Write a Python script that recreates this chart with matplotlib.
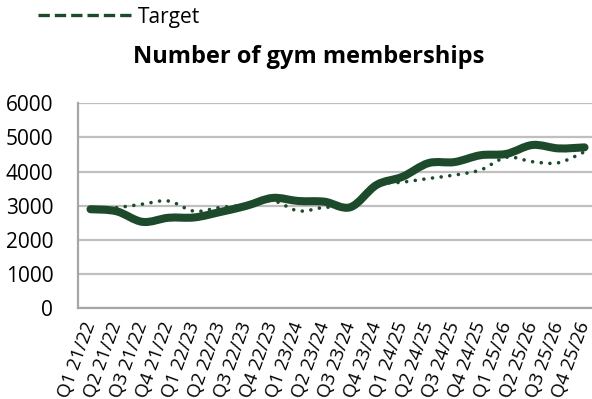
import matplotlib
matplotlib.use("Agg")
import matplotlib.pyplot as plt
import numpy as np
from matplotlib.path import Path
from matplotlib.patches import PathPatch
from matplotlib.lines import Line2D

plt.rcParams["font.family"] = ["Open Sans", "DejaVu Sans"]

trimestres = [
    "Q1 21/22", "Q2 21/22", "Q3 21/22", "Q4 21/22",
    "Q1 22/23", "Q2 22/23", "Q3 22/23", "Q4 22/23",
    "Q1 23/24", "Q2 23/24", "Q3 23/24", "Q4 23/24",
    "Q1 24/25", "Q2 24/25", "Q3 24/25", "Q4 24/25",
    "Q1 25/26", "Q2 25/26", "Q3 25/26", "Q4 25/26",
]
socios = [2900, 2840, 2530, 2650, 2660, 2820, 3000, 3230, 3140, 3120,
          2960, 3610, 3850, 4250, 4280, 4480, 4520, 4780, 4680, 4710]
objetivo = [2900, 2945, 3050, 3140, 2840, 2955, 3020, 3150, 2850, 2955,
            2980, 3600, 3690, 3800, 3900, 4050, 4420, 4290, 4260, 4580]

VERDE = "#1d4a2b"
GRIS = "#bfbfbf"


def _curva_suave(xs, ys):
    # Catmull-Rom pasado a Bezier cubico, como las lineas suavizadas de Excel
    pts = np.column_stack([xs, ys]).astype(float)
    n = len(pts)
    verts = [pts[0]]
    codes = [Path.MOVETO]
    for i in range(n - 1):
        p0 = pts[max(i - 1, 0)]
        p1 = pts[i]
        p2 = pts[i + 1]
        p3 = pts[min(i + 2, n - 1)]
        c1 = p1 + (p2 - p0) / 6.0
        c2 = p2 - (p3 - p1) / 6.0
        verts += [c1, c2, p2]
        codes += [Path.CURVE4] * 3
    return Path(verts, codes)


fig = plt.figure(figsize=(5.92, 3.99), dpi=100)
ax = fig.add_axes([77.5 / 592, 90.7 / 399, 520 / 592, 205 / 399])

x = np.arange(len(trimestres))

linea_obj = PathPatch(_curva_suave(x, objetivo), fill=False, edgecolor=VERDE,
                      linewidth=2.6, linestyle=(0, (0.01, 2.4)), capstyle="round",
                      zorder=3)
ax.add_patch(linea_obj)
linea_socios = PathPatch(_curva_suave(x, socios), fill=False, edgecolor=VERDE,
                         linewidth=5.8, capstyle="round", joinstyle="round", zorder=4)
ax.add_patch(linea_socios)

ax.set_xlim(-0.5, len(trimestres) - 0.5)
ax.set_ylim(0, 6000)
ax.set_yticks(range(0, 6001, 1000))
ax.set_xticks(x)
ax.set_xticklabels(trimestres, rotation=70, ha="right", va="center",
                   rotation_mode="anchor", fontsize=13.5)
ax.tick_params(axis="y", labelsize=15, length=0, pad=17.5)
ax.tick_params(axis="x", length=0, pad=10)

ax.grid(True, axis="y", color=GRIS, linewidth=1.6)
ax.set_axisbelow(True)
for lado in ["top", "right"]:
    ax.spines[lado].set_visible(False)
ax.spines["left"].set_color("#a6a6a6")
ax.spines["left"].set_linewidth(1.6)
ax.spines["bottom"].set_color("#a6a6a6")
ax.spines["bottom"].set_linewidth(1.6)

fig.text(309 / 592, 1 - 57 / 399, "Number of gym memberships", ha="center",
         va="center", fontsize=17, fontweight="bold")

mango = Line2D([], [], color=VERDE, linewidth=2.4, linestyle=(0, (3.4, 1.5)))
fig.legend(handles=[mango], labels=["Target"], loc="center left",
           bbox_to_anchor=(38 / 592, 1 - 17 / 399), frameon=False, fontsize=15,
           handlelength=4.5, handletextpad=0.3, borderpad=0, borderaxespad=0)

fig.savefig("out.png", dpi=100)
